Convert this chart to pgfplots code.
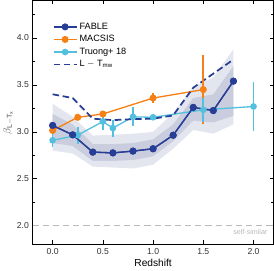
\documentclass[border=0pt]{standalone}
\usepackage{fontspec}
\setmainfont{Liberation Sans}
\usepackage{pgfplots}
\pgfplotsset{compat=1.18}
\definecolor{fable}{RGB}{40,62,150}
\definecolor{macsis}{RGB}{245,128,22}
\definecolor{truong}{RGB}{82,192,222}
\definecolor{bandlight}{RGB}{228,230,239}
\definecolor{banddark}{RGB}{201,205,221}
\definecolor{ssgray}{RGB}{185,185,185}
\begin{document}
\begin{tikzpicture}
\begin{axis}[
  scale only axis, width=237pt, height=240pt,
  xmin=-0.2, xmax=2.2, ymin=1.8, ymax=4.4,
  xtick={0,0.5,1,1.5,2}, ytick={2,2.5,3,3.5,4},
  minor ytick={2.25,2.75,3.25,3.75,4.25},
  tick align=inside, major tick length=4pt, minor tick length=2.5pt,
  xticklabel style={/pgf/number format/.cd,fixed,fixed zerofill,precision=1},
  yticklabel style={/pgf/number format/.cd,fixed,fixed zerofill,precision=1},
  /pgf/number format/assume math mode=true,
  ticklabel style={font=\fontsize{8.5}{9}\selectfont, text=black!80},
  every tick/.style={black, line width=0.6pt},
  axis line style={line width=0.8pt},
  unbounded coords=jump,
  xlabel={Redshift},
  xlabel style={font=\fontsize{10}{12}\selectfont, yshift=2pt},
  ylabel={$\beta_{\mathrm{L-T_x}}$},
  ylabel style={font=\fontsize{10}{11}\selectfont, text=black!70, yshift=-3pt},
  legend style={at={(0.07,0.925)}, anchor=north west, draw=none, fill=none,
    font=\fontsize{9}{10}\selectfont, row sep=0.6pt, legend cell align=left},
  legend image code/.code={\draw[mark repeat=2,mark phase=2] plot coordinates {(0cm,0cm) (0.4cm,0cm) (0.8cm,0cm)};},
]
% bands
\addplot[fill=bandlight, draw=none, forget plot] coordinates {
 (0,2.80)(0.2,2.77)(0.4,2.63)(0.6,2.62)(0.8,2.61)(1.0,2.65)(1.2,2.82)(1.4,3.02)(1.6,2.98)(1.8,3.08)
 (1.8,3.88)(1.6,3.58)(1.4,3.48)(1.2,3.20)(1.0,3.00)(0.8,2.98)(0.6,2.97)(0.4,2.96)(0.2,3.16)(0,3.30)} -- cycle;
\addplot[fill=banddark, draw=none, forget plot] coordinates {
 (0,2.88)(0.2,2.85)(0.4,2.69)(0.6,2.69)(0.8,2.70)(1.0,2.74)(1.2,2.90)(1.4,3.12)(1.6,3.10)(1.8,3.17)
 (1.8,3.70)(1.6,3.40)(1.4,3.36)(1.2,3.08)(1.0,2.92)(0.8,2.88)(0.6,2.87)(0.4,2.87)(0.2,3.08)(0,3.19)} -- cycle;
% self-similar
\addplot[ssgray, line width=1.4pt, dash pattern=on 6pt off 4pt, forget plot] coordinates {(-0.2,2.0)(2.2,2.0)};
\node[anchor=north east, text=ssgray, font=\fontsize{7}{8}\selectfont, inner sep=1pt] at (axis cs:2.15,1.975) {self-similar};
% FABLE
\addplot[fable, line width=1.3pt, mark=*, mark size=2.8pt, mark options={solid}] coordinates {
 (0,3.068)(0.2,2.968)(0.4,2.784)(0.6,2.776)(0.8,2.795)(1.0,2.82)(1.2,2.964)(1.4,3.26)(1.6,3.227)(1.8,3.54)};
\addlegendentry{FABLE}
% MACSIS
\addplot[macsis, line width=1.3pt, mark=*, mark size=2.8pt] coordinates {
 (0,3.015)(0.25,3.155)(0.5,3.19)(1.0,3.36)(1.5,3.45)};
\addlegendentry{MACSIS}
% Truong
\addplot[truong, line width=1.3pt, mark=*, mark size=2.6pt] coordinates {
 (0,2.91)(0.25,2.965)(0.5,3.11)(0.6,3.04)(0.8,3.16)(1.0,3.155)(1.5,3.235)(2.0,3.27)};
\addlegendentry{Truong+ 18}
% L-Tmw
\addplot[fable, line width=1.7pt, dash pattern=on 6.5pt off 3.5pt] coordinates {
 (0,3.40)(0.2,3.36)(0.4,3.14)(0.6,3.125)(0.8,3.135)(1.0,3.14)(1.2,3.175)(1.4,3.47)(1.6,3.62)(1.8,3.77)};
\addlegendentry{L $-$ T$_\mathrm{mw}$}
% error bars
\addplot[macsis, line width=1.7pt, forget plot] coordinates {
 (1.0,3.305)(1.0,3.415) (nan,nan) (1.5,3.08)(1.5,3.82)};
\addplot[truong, line width=1.7pt, forget plot] coordinates {
 (0,2.84)(0,2.98) (nan,nan) (0.25,2.875)(0.25,3.055) (nan,nan) (0.5,3.02)(0.5,3.20) (nan,nan)
 (0.6,2.95)(0.6,3.13) (nan,nan) (0.8,3.06)(0.8,3.26) (nan,nan) (1.0,3.135)(1.0,3.175) (nan,nan)
 (1.5,3.105)(1.5,3.365) (nan,nan) (2.0,3.01)(2.0,3.53)};
% FABLE on top
\addplot[fable, line width=1.3pt, mark=*, mark size=2.8pt, forget plot] coordinates {
 (0,3.068)(0.2,2.968)(0.4,2.784)(0.6,2.776)(0.8,2.795)(1.0,2.82)(1.2,2.964)(1.4,3.26)(1.6,3.227)(1.8,3.54)};
\end{axis}
\end{tikzpicture}
\end{document}
